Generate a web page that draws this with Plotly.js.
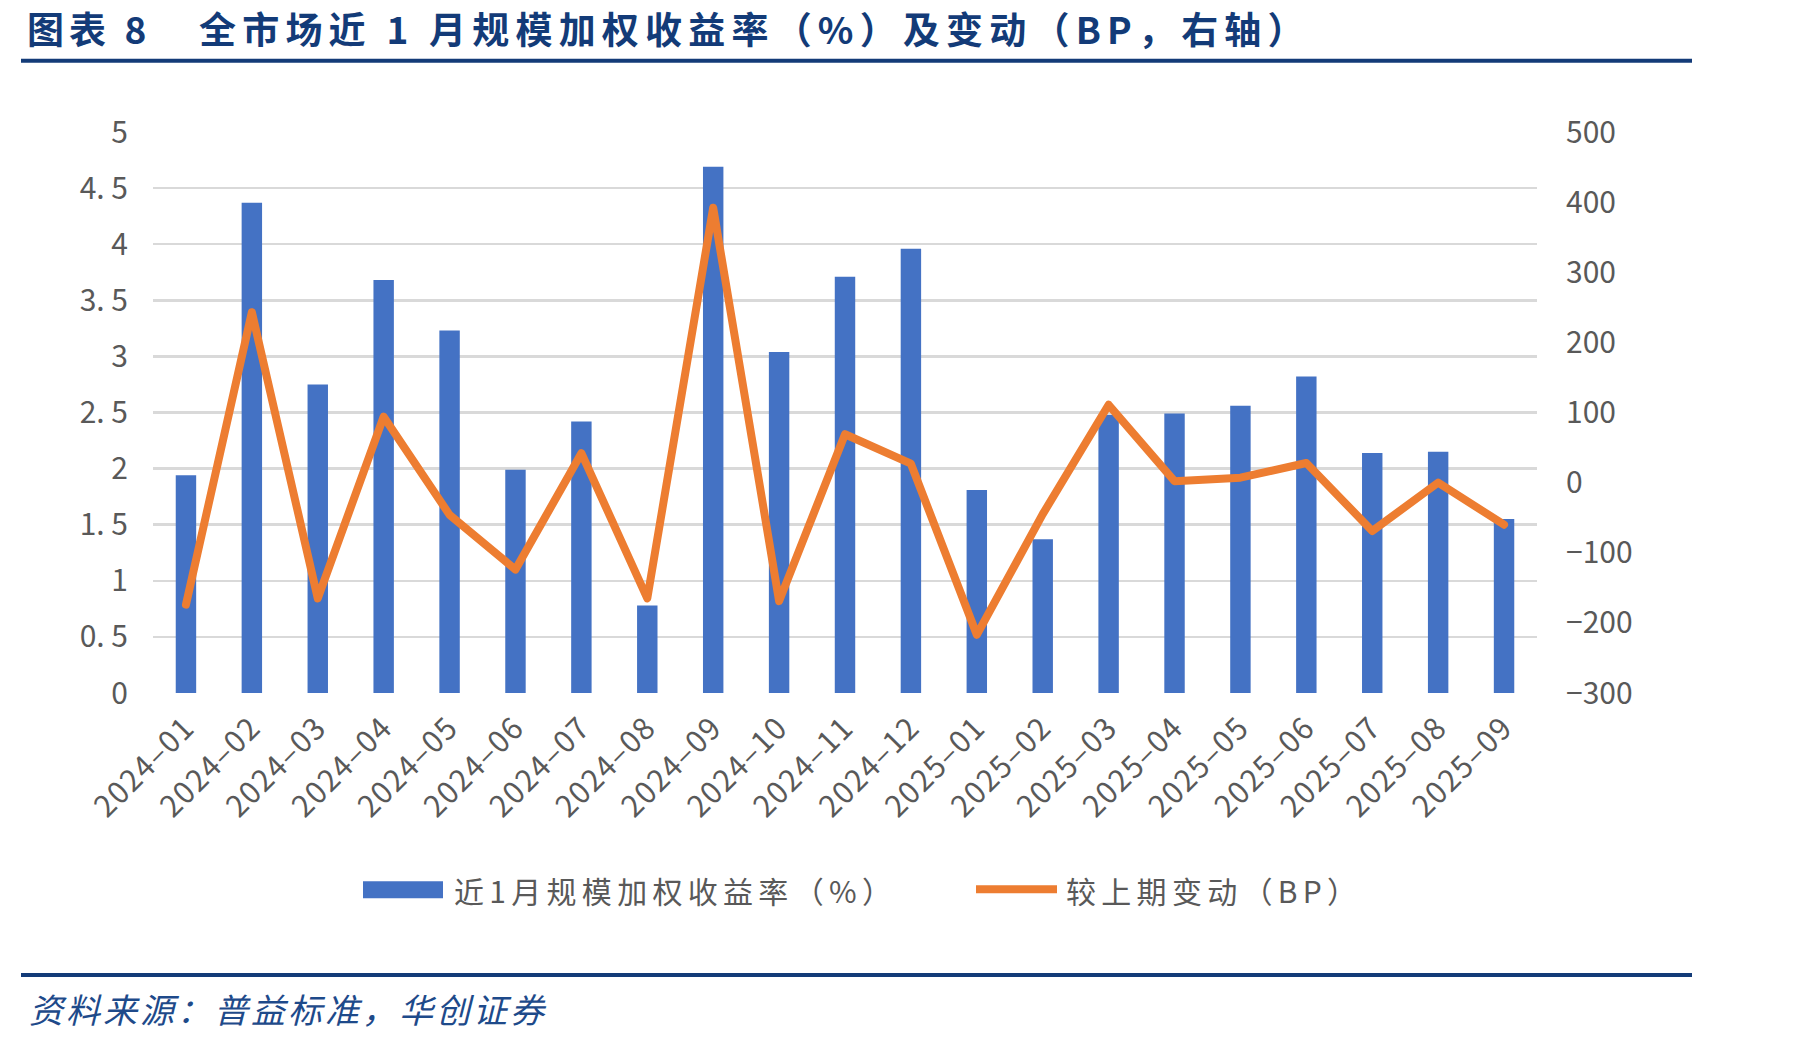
<!DOCTYPE html>
<html>
<head>
<meta charset="utf-8">
<script src="https://cdn.plot.ly/plotly-3.0.1.min.js"></script>
<style>html,body{margin:0;padding:0;background:#fff;}</style>
</head>
<body>
<div id="chart" style="width:1801px;height:1043px;"></div>
<script>
const months = ["2024-01","2024-02","2024-03","2024-04","2024-05","2024-06","2024-07","2024-08","2024-09","2024-10","2024-11","2024-12","2025-01","2025-02","2025-03","2025-04","2025-05","2025-06","2025-07","2025-08","2025-09"];
const monthLabels = months.map(m => m.replace("-", "\u2013"));
const yieldPct = [1.94,4.37,2.75,3.68,3.23,1.99,2.42,0.78,4.69,3.04,3.71,3.96,1.81,1.37,2.48,2.49,2.56,2.82,2.14,2.15,1.55];
const changeBP = [-174,243,-165,94,-46,-124,42,-165,392,-169,69,27,-217,-45,111,2,7,28,-69,0,-60];
const leftTicks = [0,0.5,1,1.5,2,2.5,3,3.5,4,4.5,5];
const leftTickText = ["0","0. 5","1","1. 5","2","2. 5","3","3. 5","4","4. 5","5"];
const rightTicks = [-300,-200,-100,0,100,200,300,400,500];

const titleHead = "图表 8";
const titleText = "全市场近 1 月规模加权收益率（%）及变动（BP，右轴）";
const sourceText = "资料来源：普益标准，华创证券";
const barName = "近1月规模加权收益率（%）";
const lineName = "较上期变动（BP）";

const BLUE = "#4472C4", ORANGE = "#ED7D31", GRID = "#D9D9D9", TICK = "#595959", NAVY = "#133B78";
const FONT = "'Noto Sans CJK SC', 'Noto Sans', sans-serif";

const traces = [
  {type:"bar", x: monthLabels, y: yieldPct, name: barName, marker:{color: BLUE}, yaxis:"y", hoverinfo:"skip"},
  {type:"scatter", mode:"lines", x: monthLabels, y: changeBP, name: lineName, line:{color: ORANGE, width:8}, yaxis:"y2", hoverinfo:"skip"}
];

const L = 153, R = 1537, T = 131.5, B = 693.5;
const px = X => (X - L) / (R - L);
const py = Y => (B - Y) / (B - T);

function ann(X, Y, text, size, color, extra) {
  return Object.assign({xref:"paper", yref:"paper", x:px(X), y:py(Y), xanchor:"left", yanchor:"middle", align:"left", showarrow:false, text:text, font:{size:size, color:color, family:FONT}}, extra || {});
}

const layout = {
  width: 1801, height: 1043,
  margin: {l: L, r: 1801 - R, t: T, b: 1043 - B, pad: 0},
  paper_bgcolor: "#fff", plot_bgcolor: "#fff",
  showlegend: false,
  bargap: 0.69,
  font: {family: FONT, color: TICK},
  xaxis: {type:"category", tickangle:-45, tickfont:{size:30, color:TICK, family:FONT}, showgrid:false, showline:false, ticks:"", zeroline:false, ticklabelstandoff: 10},
  yaxis: {range:[0,5], tickvals: leftTicks, ticktext: leftTickText, showgrid:true, gridcolor:GRID, gridwidth:2.5, zeroline:false, showline:false, ticks:"", tickfont:{size:30, color:TICK, family:FONT}, ticklabelstandoff: 24},
  yaxis2: {range:[-300,500], tickvals: rightTicks, overlaying:"y", side:"right", showgrid:false, zeroline:false, showline:false, ticks:"", tickfont:{size:30, color:TICK, family:FONT}, ticklabelstandoff: 28},
  shapes: [
    {type:"line", xref:"paper", yref:"paper", x0:px(21), x1:px(1692), y0:py(60), y1:py(60), line:{color:NAVY, width:4}},
    {type:"line", xref:"paper", yref:"paper", x0:px(21), x1:px(1692), y0:py(976), y1:py(976), line:{color:NAVY, width:4}},
    {type:"rect", xref:"paper", yref:"paper", x0:px(363), x1:px(443), y0:py(882), y1:py(899), fillcolor:BLUE, line:{width:0}},
    {type:"line", xref:"paper", yref:"paper", x0:px(976), x1:px(1057), y0:py(890), y1:py(890), line:{color:ORANGE, width:8}}
  ],
  annotations: [
    ann(25, 27, "<b>"+titleHead+"</b>", 37, NAVY, {name:"t1"}),
    ann(197, 27, "<b>"+titleText+"</b>", 37, NAVY, {name:"t2"}),
    ann(27, 1010, "<i>"+sourceText+"</i>", 34, "#1E4A8A", {name:"src"}),
    ann(452, 891, barName, 30, TICK, {name:"lg1"}),
    ann(1064, 891, lineName, 30, TICK, {name:"lg2"})
  ]
};

Plotly.newPlot("chart", traces, layout, {staticPlot:true, displayModeBar:false}).then(gd => {
  const spacing = [5, 6.2, 3, 5.3, 5.3];
  gd.querySelectorAll(".annotation-text").forEach((t, i) => {
    if (spacing[i] !== undefined) t.style.letterSpacing = spacing[i] + "px";
  });
  gd.querySelectorAll(".xtick text").forEach(t => { t.style.letterSpacing = "1.5px"; });
  gd.querySelectorAll(".scatterlayer path.js-line").forEach(p => {
    p.style.strokeLinejoin = "round";
    p.style.strokeLinecap = "round";
  });
});
</script>
</body>
</html>
